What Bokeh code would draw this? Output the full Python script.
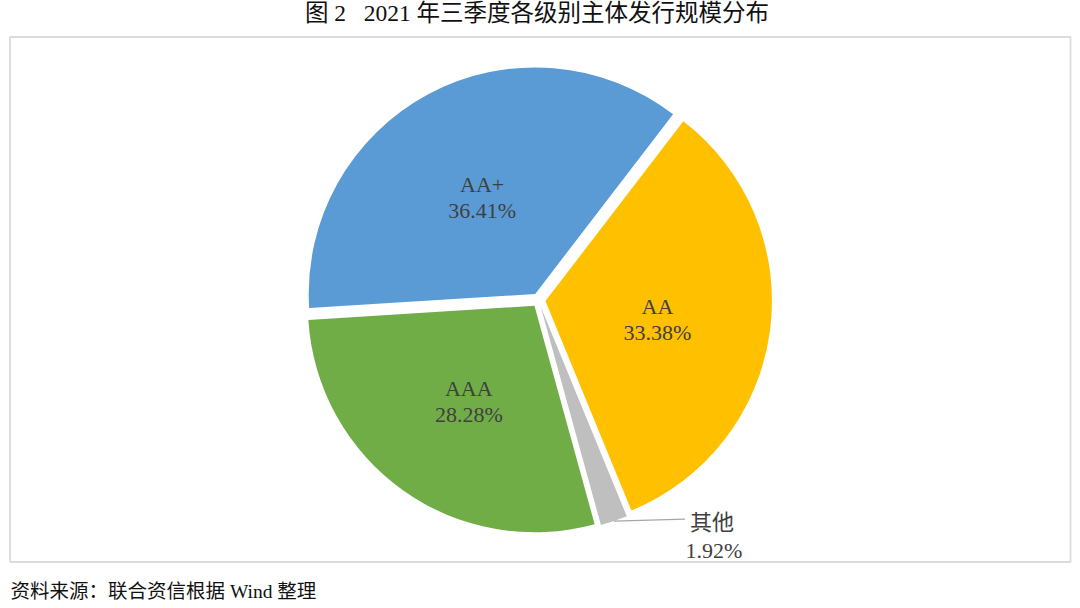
import math
from bokeh.plotting import figure
from bokeh.models import Range1d, ColumnDataSource
from bokeh.core.properties import value
from bokeh.embed import file_html
from bokeh.resources import INLINE

# ---- data ----
categories = ["AA", "其他", "AAA", "AA+"]
shares = [33.38, 1.92, 28.28, 36.41]
pct_labels = ["33.38%", "1.92%", "28.28%", "36.41%"]
colors = ["#FFC000", "#BFBFBF", "#70AD47", "#5B9BD5"]
title_text = "图 2\u00a0\u00a0\u00a02021 年三季度各级别主体发行规模分布"
source_text = "资料来源：联合资信根据 Wind 整理"

# ---- layout ----
W, H = 1072, 600


def X(px):
    return px


def Y(py):
    return H - py


SERIF = value("'Liberation Serif', 'Noto Sans CJK SC'")
TXT = "#404040"

p = figure(width=W, height=H, x_range=Range1d(0, W), y_range=Range1d(0, H),
           output_backend="svg", toolbar_location=None, min_border=0,
           x_axis_location=None, y_axis_location=None)
p.grid.visible = False
p.outline_line_color = None
p.background_fill_color = "white"
p.border_fill_color = "white"

# frame box
p.quad(left=[X(9.5)], right=[X(1070)], top=[Y(36.5)], bottom=[Y(561.5)],
       fill_color=None, line_color="#DCDCDC", line_width=1.8)

# ---- pie ----
cx, cy = X(538), Y(299.6)
R = 226.5
explode = 7.0
start_cw = 37.5  # degrees clockwise from 12 o'clock
total = sum(shares)

xs, ys, sa, ea, mids = [], [], [], [], []
acc = start_cw
for s in shares:
    sweep = 360.0 * s / total
    a0, a1 = acc, acc + sweep
    mid = (a0 + a1) / 2
    mids.append(mid)
    mx, my = math.sin(math.radians(mid)), math.cos(math.radians(mid))
    xs.append(cx + explode * mx)
    ys.append(cy + explode * my)
    sa.append(math.radians(90 - a1))
    ea.append(math.radians(90 - a0))
    acc = a1

src = ColumnDataSource(dict(x=xs, y=ys, start=sa, end=ea, color=colors, cat=categories))
p.wedge(x="x", y="y", radius=R, start_angle="start", end_angle="end",
        direction="anticlock", fill_color="color", line_color=None, source=src)

# ---- labels ----
label_r = 120.0
lift = 4.0
nx, ny, px_, py_, ntxt, ptxt = [], [], [], [], [], []
for i, cat in enumerate(categories):
    mid = math.radians(mids[i])
    mx, my = math.sin(mid), math.cos(mid)
    if cat == "其他":
        ax = cx + (R + explode) * mx
        ay = cy + (R + explode) * my
        bx, by = ax + 71, ay + 2
        p.line(x=[ax, bx], y=[ay, by], line_color="#A6A6A6", line_width=1.2)
        nx.append(bx + 27); ny.append(by - 7 + lift)
        px_.append(bx + 29); py_.append(by - 35 + lift)
    else:
        lx = cx + label_r * mx
        ly = cy + label_r * my
        nx.append(lx); ny.append(ly + 5.5 + lift)
        px_.append(lx); py_.append(ly - 20.5 + lift)
    ntxt.append(cat)
    ptxt.append(pct_labels[i])

p.text(x=nx, y=ny, text=ntxt, text_align="center", text_baseline="alphabetic",
       text_font=SERIF, text_font_size="22px", text_color=TXT)
p.text(x=px_, y=py_, text=ptxt, text_align="center", text_baseline="alphabetic",
       text_font=SERIF, text_font_size="22px", text_color=TXT)

# ---- title and source ----
p.text(x=[X(536.5)], y=[Y(12)], text=[title_text], text_align="center",
       text_baseline="middle", text_font=SERIF, text_font_size="23.5px",
       text_color="#111111")
p.text(x=[X(10)], y=[Y(590.5)], text=[source_text], text_align="left",
       text_baseline="middle", text_font=SERIF, text_font_size="19.5px",
       text_color="#111111")

open("out.html", "w").write(file_html(p, INLINE))
